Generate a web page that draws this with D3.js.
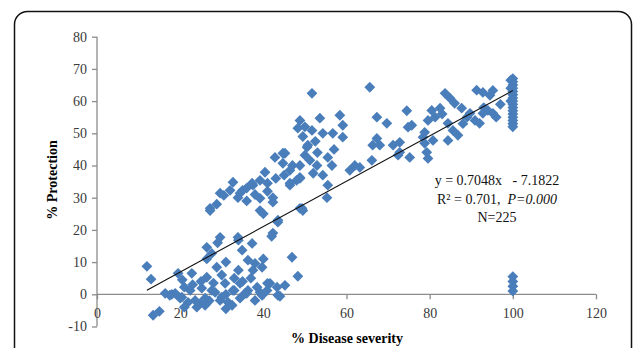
<!DOCTYPE html>
<html>
<head>
<meta charset="utf-8">
<script src="https://cdn.jsdelivr.net/npm/d3@7"></script>
<style>
  body { margin: 0; background: #fff; }
  svg { display: block; }
</style>
</head>
<body>
<div id="chart"></div>
<script>
// % Disease severity (x) and % Protection (y)
const severity = [
  12,13,13.5,15,16.4,17.5,18.8,19.5,20.4,21,21.9,22.8,24,25.2,26.4,27.6,29,26.4,28.8,26.4,
  27.6,26,30,30.8,31.5,33,34,34.9,34,37.3,36.3,37.5,38.5,35.6,39.2,41,38,40.9,20,22.4,
  23.6,26,28.4,29.6,32.5,34.4,36.3,38,39.7,24.8,21,32.7,34.4,36,43.3,45.2,44,41.6,43.5,39.7,
  46.9,48.3,29.6,33.9,31,33,30,25,23,28,31,35,37,40,27,31,18,20.5,
  27.2,28.8,29.6,32,32.7,33.9,35,36,37.3,39.2,40.4,41,39.2,42.3,42.8,44.7,46.4,48.8,50.5,51.2,
  52,48,49.3,43.5,42.3,44.7,42.3,40,43.5,42,48.8,49.5,27.2,30.5,34.4,37.5,39.2,46.4,38,36,
  41,45,47,43,
  51.7,65.6,48.8,48.3,51.7,53.6,54.3,56.7,58.4,59.1,59.1,50.7,50,52.9,45.2,48.8,55.5,56.5,54.3,48.8,
  46.4,55.5,55.3,60.8,63.2,66.1,67.3,69.7,67.3,68,71.2,72.4,66.3,74.5,74.8,50,52.5,57,53,49.5,62,
  75.7,72.8,78.8,80.5,82.5,83.7,84.9,86,87.7,89,89.7,90.9,92,92.8,91.3,92.8,94.5,94,95.2,85.6,
  86.8,84.4,81.3,79.6,78.4,80.8,84.4,78.8,79.3,75.2,72.8,79.6,95.2,88,93,97,96,83,
  100,100,100,100,100,100,100,100,100,100,100,100,100,100,100,100,99.5,99.5,99.5,
  100,100,100,100
];
const protection = [
  8.7,4.7,-6.5,-5.3,0.3,-0.3,0.3,6.5,-0.9,2.2,-2.5,6.5,-4,1.9,14.6,12.7,16,11,8.4,5.3,
  1.2,-1.2,-0.9,3.4,-2.5,1.2,7.5,13.7,16.8,15.8,10.6,7.5,2.2,0.3,0.6,3.4,9.6,1.2,-1.2,1.2,
  -1.9,-3.4,0.6,-1.9,-3.4,-1.2,1.2,-1.9,-0.3,-2.8,-4,1.2,3.4,0.3,2.2,2.8,-0.6,3.4,-0.3,8.4,
  11.5,5.6,17.7,17.7,10,5,6,4,3,3.5,0,4,5,11,-2,-4.5,0,4.5,
  26,28,31.4,32.3,34.8,30,32.3,29,34.5,35.4,37.9,34.5,26,30,42.5,43.8,38.5,36.3,45.7,41.6,
  37.6,35.4,26.7,23,19,40.7,28.6,25,22.4,18,26.7,26,26.7,30.7,31.4,33.9,29.8,33.9,31,33,
  32,37,40,36,
  62.4,64.3,54,51.6,50.9,54.7,50,50,55.6,52.5,48.8,46.3,43.2,40,43.8,40,42.5,40,37,36,
  34.5,33.9,30,38.5,39.4,41.6,55,53.1,48.4,46.3,46.3,43.2,46.3,57,51.9,52,47.5,45,44,49,40,
  52.5,47.2,50.3,57.1,57.8,62.4,60.9,59.3,57.8,55,56.2,54,53.1,56.2,63.4,62.7,61.8,57.1,56.2,50.9,
  49.4,53.1,55,54,48.8,47.8,47.8,46.9,44.1,42.5,44.1,42.2,63.3,53,58,59,55,56,
  67,66,65,64,63,62,61,60,59,58,57,56,55,54,53,52,66.5,64,60,
  5.5,4,2.5,1
];
const xTicks = [0, 20, 40, 60, 80, 100, 120];
const yTicks = [-10, 0, 10, 20, 30, 40, 50, 60, 70, 80];
// linear fit shown on the chart
const slope = 0.7048, intercept = -7.1822;
const fitRange = [12, 100];
const noteLines = ["y = 0.7048x   - 7.1822", "R\u00b2 = 0.701,  ", "N=225"];

const width = 633, height = 348;
const font = "'Liberation Serif', 'Times New Roman', serif";

const svg = d3.select('#chart').append('svg')
  .attr('width', width)
  .attr('height', height);

// chart frame with rounded corners, running off the right/bottom
svg.append('rect')
  .attr('x', 14.5).attr('y', 11.5)
  .attr('width', 617).attr('height', 380)
  .attr('rx', 13).attr('ry', 13)
  .attr('fill', 'none')
  .attr('stroke', '#111')
  .attr('stroke-width', 1.5);

const x = d3.scaleLinear().domain([0, 120]).range([97, 596]);
const y = d3.scaleLinear().domain([-10, 80]).range([326.5, 36.7]);

// axes (plain hyphen for negatives, like the original)
const yAxis = svg.append('g')
  .attr('transform', `translate(${x(0)},0)`)
  .call(d3.axisLeft(y).tickValues(yTicks).tickFormat(d => String(d)).tickSize(5).tickPadding(5));
const xAxis = svg.append('g')
  .attr('transform', `translate(0,${y(0)})`)
  .call(d3.axisBottom(x).tickValues(xTicks).tickFormat(d => String(d)).tickSize(5).tickPadding(9));

[xAxis, yAxis].forEach(g => {
  g.select('.domain').attr('stroke', '#8c8c8c').attr('stroke-width', 1.3);
  g.selectAll('.tick line').attr('stroke', '#8c8c8c').attr('stroke-width', 1.3);
  g.selectAll('.tick text')
    .attr('fill', '#3a3a3a')
    .style('font-family', font)
    .style('font-size', '14px');
});
xAxis.select('.domain').attr('d', `M${x(0)},0H${x(120)}`);
yAxis.select('.domain').attr('d', `M0,${y(-10)}V${y(80)}`);

// axis titles
svg.append('text')
  .attr('x', 347).attr('y', 343)
  .attr('text-anchor', 'middle')
  .style('font-family', font)
  .style('font-size', '14px')
  .style('font-weight', 'bold')
  .text('% Disease severity');

svg.append('text')
  .attr('transform', 'translate(57,180) rotate(-90)')
  .attr('text-anchor', 'middle')
  .style('font-family', font)
  .style('font-size', '14px')
  .style('font-weight', 'bold')
  .text('% Protection');

// points
const data = severity.map((s, i) => ({ s: s, p: protection[i] }));
const r = 5.4;
svg.append('g').selectAll('path')
  .data(data)
  .enter()
  .append('path')
  .attr('transform', d => `translate(${x(d.s)},${y(d.p)})`)
  .attr('d', `M0,${-r}L${r},0L0,${r}L${-r},0Z`)
  .attr('fill', '#4a7ebb');

// trend line
const line = d3.line()
  .x(d => x(d))
  .y(d => y(slope * d + intercept));
svg.append('path')
  .datum(fitRange)
  .attr('d', line)
  .attr('fill', 'none')
  .attr('stroke', '#111')
  .attr('stroke-width', 1.1);

// equation note
const note = svg.append('g')
  .style('font-family', font)
  .style('font-size', '14px')
  .attr('fill', '#111');
note.append('text').attr('x', 497).attr('y', 185).attr('text-anchor', 'middle')
  .style('white-space', 'pre').text(noteLines[0]);
const l2 = note.append('text').attr('x', 497).attr('y', 204).attr('text-anchor', 'middle')
  .style('white-space', 'pre');
l2.append('tspan').text(noteLines[1]);
l2.append('tspan').style('font-style', 'italic').text('P=0.000');
note.append('text').attr('x', 497).attr('y', 222).attr('text-anchor', 'middle')
  .text(noteLines[2]);
</script>
</body>
</html>
